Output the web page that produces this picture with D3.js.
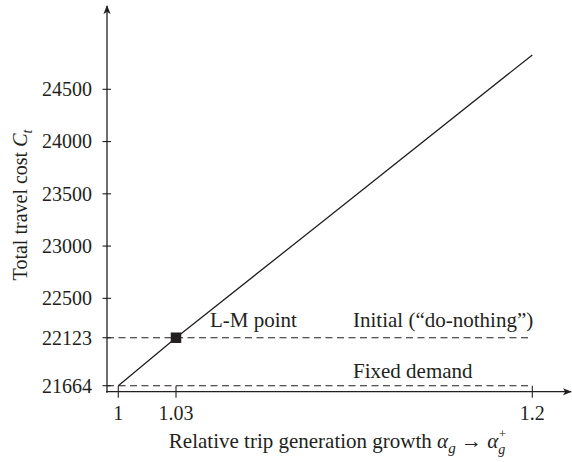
<!DOCTYPE html>
<html>
<head>
<meta charset="utf-8">
<script src="https://cdn.jsdelivr.net/npm/d3@7"></script>
<style>
  html, body { margin: 0; padding: 0; background: #fff; }
  svg text { font-family: "Liberation Serif", "DejaVu Serif", serif; fill: #231f20; }
</style>
</head>
<body>
<div id="chart"></div>
<script>
// Relative trip generation growth and total travel cost along the curve
const alphaValues = [1, 1.03, 1.1, 1.2];
const costValues = [21664, 22123, 23235, 24829];

// Reference levels
const initialCost = 22123;   // Initial ("do-nothing")
const fixedCost = 21664;     // Fixed demand
const lmPoint = { alpha: 1.03, cost: 22123 };

// Tick labels
const xTicks = [1, 1.03, 1.2];
const yTicks = [21664, 22123, 22500, 23000, 23500, 24000, 24500];

const W = 572, H = 462;
const ink = "#231f20";

const svg = d3.select("#chart").append("svg")
  .attr("width", W).attr("height", H);

// Schematic axis: 1 → 1.03 → 1.2
const x = d3.scaleLinear().domain([1, 1.03, 1.2]).range([118.3, 176, 532.3]);
const y = d3.scaleLinear().domain([21664, 24500]).range([385.7, 89.3]);

const axisX = 107, axisY = 391.7;

// arrow marker
const defs = svg.append("defs");
defs.append("marker")
  .attr("id", "arrow").attr("viewBox", "0 0 10 10")
  .attr("refX", 9).attr("refY", 5)
  .attr("markerWidth", 9).attr("markerHeight", 9)
  .attr("markerUnits", "userSpaceOnUse")
  .attr("orient", "auto")
  .append("path").attr("d", "M0,1 L10,5 L0,9 L2.5,5 Z").attr("fill", ink);

// dashed reference lines
[initialCost, fixedCost].forEach(v => {
  svg.append("line")
    .attr("x1", axisX).attr("x2", x(1.2))
    .attr("y1", y(v)).attr("y2", y(v))
    .attr("stroke", ink).attr("stroke-width", 1.1)
    .attr("stroke-dasharray", "7,4.5");
});

// axes
svg.append("line")
  .attr("x1", axisX).attr("y1", axisY + 1).attr("x2", axisX).attr("y2", 6)
  .attr("stroke", ink).attr("stroke-width", 1.3).attr("marker-end", "url(#arrow)");
svg.append("line")
  .attr("x1", axisX - 1).attr("y1", axisY).attr("x2", 571).attr("y2", axisY)
  .attr("stroke", ink).attr("stroke-width", 1.3).attr("marker-end", "url(#arrow)");

// y ticks
const yt = svg.append("g");
yTicks.forEach(v => {
  yt.append("line")
    .attr("x1", axisX - 4.5).attr("x2", axisX + 4)
    .attr("y1", y(v)).attr("y2", y(v))
    .attr("stroke", ink).attr("stroke-width", 1.1);
  yt.append("text")
    .attr("x", 92).attr("y", y(v) + 6.8)
    .attr("text-anchor", "end").attr("font-size", 20)
    .text(d3.format("d")(v));
});

// x ticks
const xt = svg.append("g");
xTicks.forEach(v => {
  xt.append("line")
    .attr("x1", x(v)).attr("x2", x(v))
    .attr("y1", axisY - 6).attr("y2", axisY + 6)
    .attr("stroke", ink).attr("stroke-width", 1.1);
  xt.append("text")
    .attr("x", x(v)).attr("y", 419.5)
    .attr("text-anchor", "middle").attr("font-size", 20)
    .text(String(v));
});

// cost curve
const line = d3.line().x((d, i) => x(alphaValues[i])).y(d => y(d));
svg.append("path")
  .datum(costValues)
  .attr("d", line)
  .attr("fill", "none").attr("stroke", ink).attr("stroke-width", 1.3);

// L-M point marker
const s = 10.5;
svg.append("rect")
  .attr("x", x(lmPoint.alpha) - s / 2).attr("y", y(lmPoint.cost) - s / 2)
  .attr("width", s).attr("height", s).attr("fill", ink);

// annotations
svg.append("text").attr("x", 210).attr("y", 327).attr("font-size", 21).text("L-M point");
svg.append("text").attr("x", 353).attr("y", 327).attr("font-size", 21).text("Initial (\u201Cdo-nothing\u201D)");
svg.append("text").attr("x", 353).attr("y", 377.5).attr("font-size", 21).text("Fixed demand");

// x axis title: Relative trip generation growth α_g → α_g^+
const titleY = 448, titleCx = 337.5;
const xt2 = svg.append("text").attr("y", titleY).attr("font-size", 21);
xt2.append("tspan").text("Relative trip generation growth ");
xt2.append("tspan").attr("font-style", "italic").text("\u03B1");
xt2.append("tspan").attr("font-style", "italic").attr("font-size", 15).attr("dy", 5).text("g");
xt2.append("tspan").attr("dy", -5).text(" \u2192 ");
xt2.append("tspan").attr("font-style", "italic").text("\u03B1");
const mainW = xt2.node().getComputedTextLength();
const scriptW = 8;
const x0 = titleCx - (mainW + scriptW) / 2;
xt2.attr("x", x0);
svg.append("text").attr("x", x0 + mainW + 0.5).attr("y", titleY - 10)
  .attr("font-size", 13).text("+");
svg.append("text").attr("x", x0 + mainW).attr("y", titleY + 6)
  .attr("font-size", 14).attr("font-style", "italic").text("g");

// y axis title with C_t
const yt2 = svg.append("text")
  .attr("transform", "translate(27,205) rotate(-90)")
  .attr("text-anchor", "middle").attr("font-size", 20);
yt2.append("tspan").text("Total travel cost ");
yt2.append("tspan").attr("font-style", "italic").text("C");
yt2.append("tspan").attr("font-style", "italic").attr("font-size", 14).attr("dy", 5).text("t");
</script>
</body>
</html>
